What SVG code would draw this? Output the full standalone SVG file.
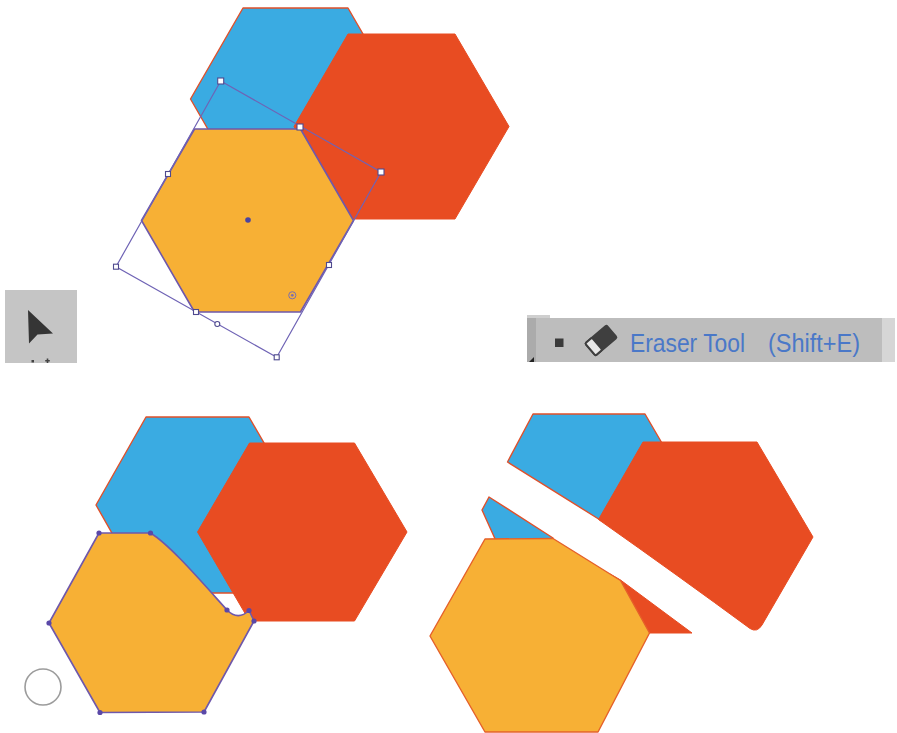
<svg xmlns="http://www.w3.org/2000/svg" width="897" height="733" viewBox="0 0 897 733">
  <style>
    .blue { fill: #3aabe2; stroke: #e0502a; stroke-width: 1.4; stroke-linejoin: round; }
    .red { fill: #e84c22; stroke: #e84c22; stroke-width: 1; stroke-linejoin: round; }
    .orange { fill: #f7b035; stroke: #e5602a; stroke-width: 1.4; stroke-linejoin: round; }
    .orange-sel { fill: #f7b035; stroke: #6f58ab; stroke-width: 1.6; stroke-linejoin: round; }
    .bbox { fill: none; stroke: #6f63b5; stroke-width: 1.2; }
    .handle { fill: #ffffff; stroke: #4f4a8f; stroke-width: 1.1; }
    .anchor { fill: #5a48a8; }
    .label { font-family: "Liberation Sans", Arial, sans-serif; font-size: 25px; fill: #4a78c8; }
  </style>

  <rect width="897" height="733" fill="#ffffff"/>

  <!-- Step 1: three hexagons, the orange one selected -->
  <g id="step-select">
    <polygon class="blue" points="190.5,99 243,8 348,8 400.5,99 348,190 243,190"/>
    <polygon class="red" points="294,126.5 348,34 455,34 509,126.5 455,219 348,219"/>
    <polygon class="orange-sel" points="141.5,220.5 194.5,129 300.5,129 353.5,220.5 300.5,312 194.5,312"/>

    <!-- rotated bounding box -->
    <polygon class="bbox" points="220.7,81 381,172 276.7,357.3 116,266.7"/>
    <g id="handles">
      <rect class="handle" x="217.7" y="78" width="6" height="6"/>
      <rect class="handle" x="297" y="124" width="6" height="6"/>
      <rect class="handle" x="378" y="169" width="6" height="6"/>
      <rect class="handle" x="165.5" y="171.5" width="5" height="5"/>
      <rect class="handle" x="326.5" y="262.5" width="5" height="5"/>
      <rect class="handle" x="193.5" y="309.5" width="5" height="5"/>
      <rect class="handle" x="113.5" y="264.2" width="5" height="5"/>
      <rect class="handle" x="274.2" y="354.8" width="5" height="5"/>
      <circle class="handle" cx="217.3" cy="324" r="2.5"/>
    </g>
    <circle cx="248" cy="220" r="2.8" fill="#4a44a0"/>
    <circle cx="292.3" cy="295.3" r="3.6" fill="none" stroke="#7a6fb0" stroke-width="1"/>
    <circle cx="292.3" cy="295.3" r="1.4" fill="#7a6fb0"/>
  </g>

  <!-- Selection tool button -->
  <g id="selection-tool">
    <rect x="5" y="290" width="72" height="73" fill="#c5c5c5"/>
    <polygon points="28,310 29,343.5 37.5,334.5 53,333.5" fill="#353535"/>
    <rect x="31.5" y="360" width="2.5" height="2.5" fill="#444444"/>
    <path d="M47.5 358.5 V363 M45.2 360.7 H49.8" stroke="#444444" stroke-width="1.6"/>
  </g>

  <!-- Eraser tool flyout entry -->
  <g id="eraser-tool">
    <rect x="527" y="315" width="23" height="4" fill="#cfcfcf"/>
    <rect x="527" y="318" width="355" height="44" fill="#bdbdbd"/>
    <rect x="527" y="318" width="9" height="44" fill="#ababab"/>
    <rect x="882" y="318" width="13" height="44" fill="#d6d6d6"/>
    <polygon points="529,362 534,362 534,357" fill="#222222"/>
    <rect x="555" y="338.5" width="8.5" height="8.5" fill="#3a3a3a"/>
    <g transform="translate(601 340.5) rotate(-40)">
      <rect x="-15" y="-9" width="30" height="18" rx="2.5" fill="#3f3f3f"/>
      <rect x="-14" y="-8" width="9" height="16" rx="1.5" fill="#e8e8e8" stroke="#3f3f3f" stroke-width="2"/>
    </g>
    <text class="label" x="630" y="352" textLength="115" lengthAdjust="spacingAndGlyphs">Eraser Tool</text>
    <text class="label" x="768" y="352" textLength="92" lengthAdjust="spacingAndGlyphs">(Shift+E)</text>
  </g>

  <!-- Step 2: erasing into the orange hexagon -->
  <g id="step-erase">
    <polygon class="blue" points="96,505 146,417 249,417 300,505 249,593 146,593"/>
    <polygon class="red" points="197.5,532 249.5,443 354.5,443 407,532 354.5,621 249.5,621"/>
    <path class="orange-sel" d="M99,533 L150.5,533 C170,545 200,580 227,610 Q238,621 249,610.5 L254,621 L204,712 L100,712.5 L49,623 Z"/>
    <g id="anchors">
      <circle class="anchor" cx="99" cy="533" r="2.6"/>
      <circle class="anchor" cx="150.5" cy="533" r="2.6"/>
      <circle class="anchor" cx="227" cy="610" r="2.6"/>
      <circle class="anchor" cx="249" cy="610.5" r="2.6"/>
      <circle class="anchor" cx="254" cy="621" r="2.6"/>
      <circle class="anchor" cx="204" cy="712" r="2.6"/>
      <circle class="anchor" cx="100" cy="712.5" r="2.6"/>
      <circle class="anchor" cx="49" cy="623" r="2.6"/>
    </g>
    <circle id="eraser-cursor" cx="43" cy="687" r="18" fill="#ffffff" stroke="#9c9c9c" stroke-width="1.6"/>
  </g>

  <!-- Step 3: shapes split by the eraser stroke -->
  <g id="step-split">
    <polygon class="blue" points="507.5,462 533,414 645,414 666,450 601,520.5 Z"/>
    <path class="blue" d="M489,497 L482,510 L496,541 L553,541 L553,538 Z"/>
    <path class="red" d="M643,442 L757,442 L813,537 L762,625 Q757,633 750,628.5 Q680,577 598.5,519.5 Z"/>
    <polygon class="red" points="610,574 620.5,580 692,633 641,633"/>
    <polygon class="orange" points="430,636 485,539 553,538.5 620.5,580.5 649.5,633 598,732 485,732"/>
  </g>
</svg>
